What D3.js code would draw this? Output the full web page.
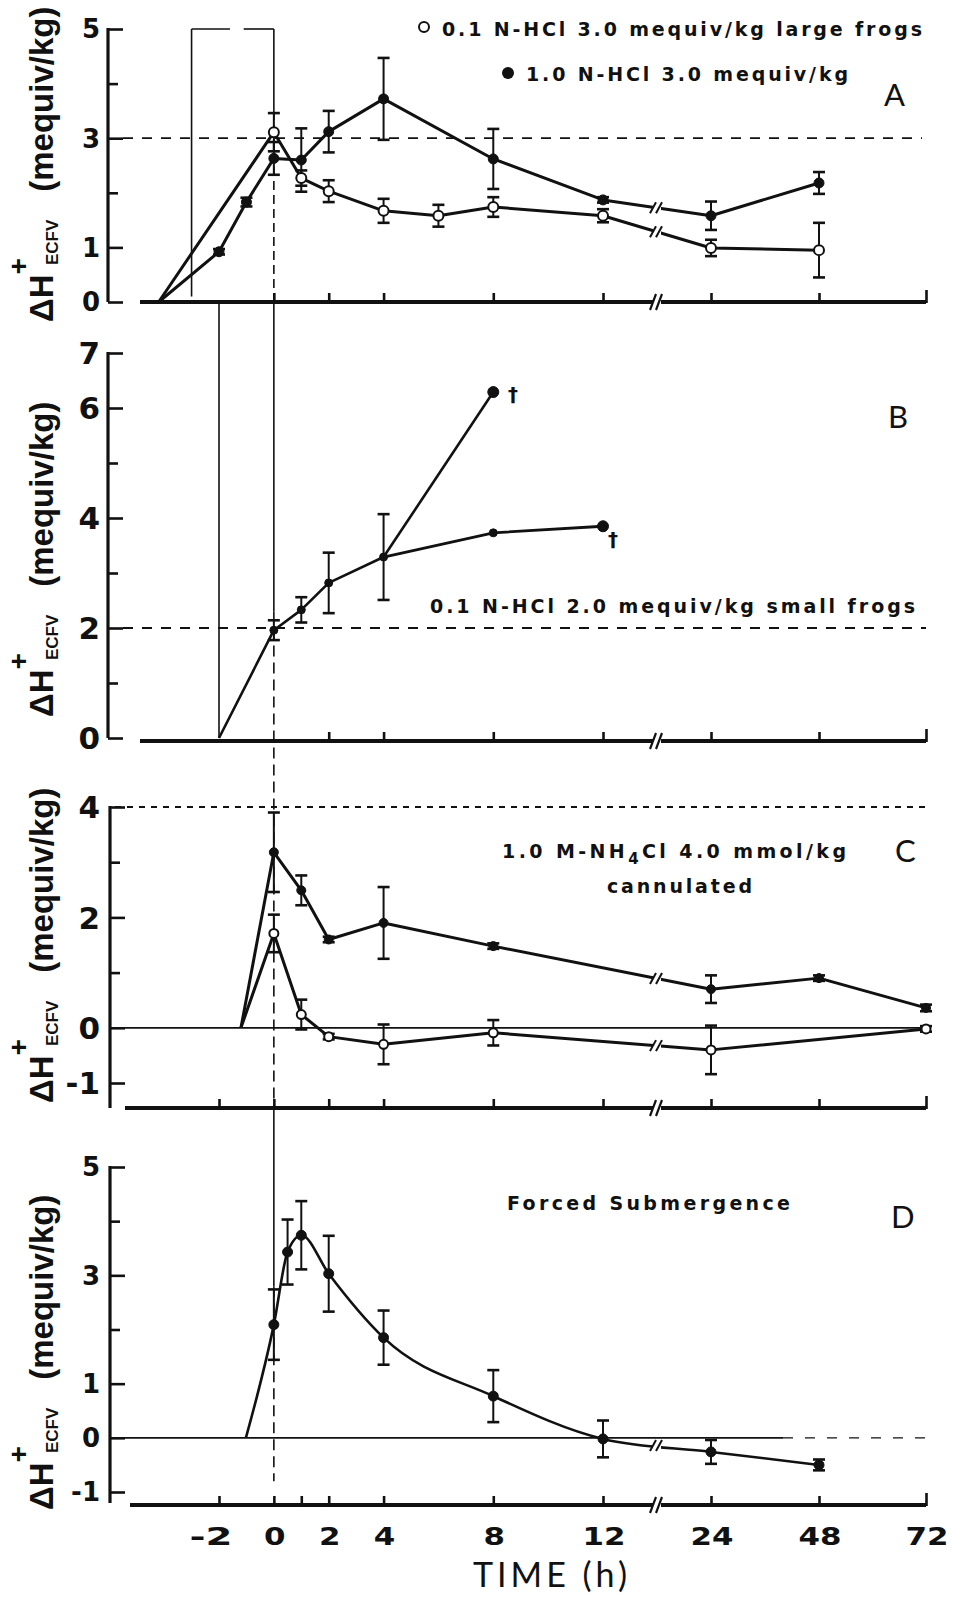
<!DOCTYPE html>
<html><head><meta charset="utf-8">
<script src="https://cdn.jsdelivr.net/npm/d3@7"></script>
<style>body{margin:0;background:#fff}svg{display:block}</style>
</head><body>
<svg id="chart" width="953" height="1597"></svg>
<script>
// ---------------- DATA ----------------
const timeTickValues = [-2, 0, 2, 4, 8, 12, 24, 48, 72];
const timeTickLabels = ["-2", "0", "2", "4", "8", "12", "24", "48", "72"];

// Panel A : 0.1 N-HCl (open) and 1.0 N-HCl (filled), 3.0 mequiv/kg
const aOnset = -4.2;
const aOpenTime = [0, 1, 2, 4, 6, 8, 12, 24, 48];
const aOpenVal  = [3.11, 2.27, 2.03, 1.67, 1.58, 1.74, 1.58, 0.99, 0.95];
const aOpenErr  = [0.35, 0.14, 0.2, 0.22, 0.2, 0.18, 0.12, 0.15, 0.5];
const aFillTime = [-2, -1, 0, 1, 2, 4, 8, 12, 24, 48];
const aFillVal  = [0.92, 1.83, 2.63, 2.6, 3.12, 3.72, 2.62, 1.87, 1.58, 2.18];
const aFillErr  = [0.05, 0.08, 0.3, 0.58, 0.38, 0.75, 0.55, 0.05, 0.26, 0.2];
const aReference = 3;

// Panel B : 0.1 N-HCl 2.0 mequiv/kg small frogs
const bOnset = -2;
const bTime = [0, 1, 2, 4];
const bVal  = [1.96, 2.33, 2.82, 3.29];
const bErr  = [0.18, 0.23, 0.55, 0.78];
const bHighTime = [8];
const bHighVal  = [6.29];
const bLowTime  = [8, 12];
const bLowVal   = [3.73, 3.85];
const bReference = 2;

// Panel C : 1.0 M-NH4Cl 4.0 mmol/kg cannulated
const cOnset = -1.2;
const cFillTime = [0, 1, 2, 4, 8, 24, 48, 72];
const cFillVal  = [3.18, 2.49, 1.6, 1.9, 1.48, 0.7, 0.9, 0.36];
const cFillErr  = [0.72, 0.27, 0.05, 0.65, 0.05, 0.25, 0.05, 0.06];
const cOpenTime = [0, 1, 2, 4, 8, 24, 72];
const cOpenVal  = [1.71, 0.24, -0.16, -0.3, -0.09, -0.4, -0.02];
const cOpenErr  = [0.34, 0.27, 0.05, 0.36, 0.23, 0.44, 0.05];
const cReference = 4;

// Panel D : Forced submergence
const dOnset = -1.02;
const dTime = [0, 0.5, 1, 2, 4, 8, 12, 24, 48];
const dVal  = [2.09, 3.43, 3.74, 3.03, 1.85, 0.77, -0.02, -0.26, -0.5];
const dErr  = [0.65, 0.6, 0.63, 0.7, 0.5, 0.48, 0.34, 0.22, 0.1];

// ---------------- LAYOUT ----------------
const svg = d3.select("#chart");
const INK = "#111";
const BOLD = "'Liberation Sans', Arial, Helvetica, sans-serif";
const ANNOT = "'DejaVu Sans', sans-serif";
const DIGIT = "'DejaVu Sans', sans-serif";
const LIGHT = "Lato, 'Open Sans', sans-serif";

// broken time axis: linear -2..12 then 24, 48, 72 equally spaced
const x = d3.scaleLinear().domain([-2, 12, 24, 48, 72]).range([219, 603, 711, 819, 926]);
const breakT = 18;

const panels = {
  A: { y: d3.scaleLinear().domain([0, 5]).range([302, 29]), axisY: 302, axisStart: 140, spineX: 108, spineBottom: 302,
       yTicks: [0, 1, 2, 3, 4, 5], yLabeled: [0, 1, 3, 5], tickFont: 26, xTicks: [0, 2, 4, 8, 12, 24, 48, 72], labelBottom: 322 },
  B: { y: d3.scaleLinear().domain([0, 7]).range([738, 353]), axisY: 741, axisStart: 140, spineX: 108, spineBottom: 738,
       yTicks: [0, 1, 2, 3, 4, 5, 6, 7], yLabeled: [0, 2, 4, 6, 7], tickFont: 31, xTicks: [2, 4, 8, 12, 24, 48, 72], labelBottom: 717 },
  C: { y: d3.scaleLinear().domain([-1, 4]).range([1083, 807]), axisY: 1108, axisStart: 125, spineX: 110, spineBottom: 1108,
       yTicks: [-1, 0, 1, 2, 3, 4], yLabeled: [-1, 0, 2, 4], tickFont: 31, xTicks: [-2, 0, 2, 4, 8, 12, 24, 48, 72], labelBottom: 1103 },
  D: { y: d3.scaleLinear().domain([-1, 5]).range([1492, 1167]), axisY: 1505, axisStart: 130, spineX: 110, spineBottom: 1503,
       yTicks: [-1, 0, 1, 2, 3, 4, 5], yLabeled: [-1, 0, 1, 3, 5], tickFont: 26, xTicks: [-2, 0, 1, 2, 4, 8, 12, 24, 48, 72], labelBottom: 1510 }
};

function seg(g, x1, y1, x2, y2, sw, dash) {
  const l = g.append("line").attr("x1", x1).attr("y1", y1).attr("x2", x2).attr("y2", y2)
    .attr("stroke", INK).attr("stroke-width", sw).attr("stroke-linecap", "butt");
  if (dash) l.attr("stroke-dasharray", dash);
  return l;
}

function breakMark(g, bx, by, h, sw) {
  g.append("rect").attr("x", bx - 4).attr("y", by - h / 2).attr("width", 8).attr("height", h).attr("fill", "#fff");
  seg(g, bx - 7, by + h / 2, bx - 1, by - h / 2, sw);
  seg(g, bx - 1, by + h / 2, bx + 5, by - h / 2, sw);
}

function drawAxes(p) {
  const g = svg.append("g");
  const y = p.y;
  // y spine
  seg(g, p.spineX, y(y.domain()[1]) - 1, p.spineX, p.spineBottom, 3.2);
  const ay = d3.axisRight(y).tickValues(p.yTicks).tickFormat("").tickSize(10);
  const ag = g.append("g").attr("transform", `translate(${p.spineX},0)`).call(ay);
  ag.select(".domain").remove();
  ag.selectAll(".tick line").attr("stroke", INK).attr("stroke-width", 2.6)
    .attr("x2", d => p.yLabeled.includes(d) ? 15 : 10);
  g.selectAll("text.ylab").data(p.yLabeled).join("text")
    .attr("x", 100).attr("y", d => y(d)).attr("dy", "0.36em")
    .attr("text-anchor", "end").attr("font-family", DIGIT).attr("font-weight", "bold")
    .attr("font-size", p.tickFont).attr("fill", INK).text(d => d < 0 ? "-" + Math.abs(d) : d);
  // x axis
  seg(g, p.axisStart, p.axisY, x(72), p.axisY, 4);
  const ax = d3.axisBottom(x).tickValues(p.xTicks).tickFormat("").tickSizeInner(-9).tickSizeOuter(0);
  const xg = g.append("g").attr("transform", `translate(0,${p.axisY})`).call(ax);
  xg.select(".domain").remove();
  xg.selectAll(".tick line").attr("stroke", INK).attr("stroke-width", 2.6).attr("y1", 1)
    .attr("y2", d => d === 72 ? -12 : -9);
  breakMark(g, x(breakT), p.axisY, 16, 2.2);
  // y axis title
  const t = g.append("text").attr("transform", `translate(53,${p.labelBottom}) rotate(-90)`)
    .attr("font-family", BOLD).attr("font-weight", "bold").attr("font-size", 33).attr("fill", INK);
  t.append("tspan").text("ΔH");
  t.append("tspan").attr("font-size", 28).attr("dy", -25).text("+");
  t.append("tspan").attr("font-size", 17).attr("dx", -7).attr("dy", 30).text("ECFV");
  t.append("tspan").attr("dx", 28).attr("dy", -5).text("(mequiv/kg)");
  return g;
}

function drawSeries(p, onset, times, vals, errs, opt) {
  const g = svg.append("g");
  const y = p.y;
  const pts = times.map((t, i) => ({ t, v: vals[i], e: errs ? errs[i] : 0 }));
  const path = (onset !== null ? [{ t: onset, v: 0, e: 0 }] : []).concat(opt.prefix || [], pts);
  const gen = d3.line().x(d => x(d.t)).y(d => y(d.v)).curve(opt.curve || d3.curveLinear);
  g.append("path").attr("d", gen(path)).attr("fill", "none").attr("stroke", INK)
    .attr("stroke-width", opt.lw || 3).attr("stroke-linejoin", "round");
  // break marks where the line crosses the axis break
  for (let i = 1; i < path.length; i++) {
    const a = path[i - 1], b = path[i];
    if (a.t < breakT && b.t > breakT) {
      const bx = x(breakT), f = (bx - x(a.t)) / (x(b.t) - x(a.t));
      const by = y(a.v) + f * (y(b.v) - y(a.v));
      breakMark(g, bx, by, 11, 2);
    }
  }
  // error bars
  pts.filter(d => d.e > 0).forEach(d => {
    const cx = x(d.t), y1 = y(d.v + d.e), y2 = y(d.v - d.e);
    seg(g, cx, y1, cx, y2, 2);
    seg(g, cx - 6, y1, cx + 6, y1, 2.6);
    seg(g, cx - 6, y2, cx + 6, y2, 2.6);
  });
  // markers
  g.selectAll("circle").data(pts).join("circle")
    .attr("cx", d => x(d.t)).attr("cy", d => y(d.v))
    .attr("r", (d, i) => opt.radius ? opt.radius(d, i) : 5)
    .attr("fill", opt.open ? "#fff" : INK).attr("stroke", INK).attr("stroke-width", opt.open ? 2 : 1);
  return g;
}

function label(txt, xs, ys, size, len, family, weight) {
  const t = svg.append("text").attr("x", xs).attr("y", ys).attr("font-family", family || ANNOT)
    .attr("font-weight", weight || "bold").attr("font-size", size).attr("fill", INK).text(txt);
  if (len) t.attr("textLength", len).attr("lengthAdjust", "spacing");
  return t;
}

// ---------------- GUIDE LINES ----------------
const gl = svg.append("g");
const A = panels.A, B = panels.B, C = panels.C, D = panels.D;
// injection box in panel A
seg(gl, x(-3), A.y(5), x(-3), A.y(0.1), 1.6);
seg(gl, x(-3), A.y(5), x(-1.6), A.y(5), 1.6);
seg(gl, x(-1.1), A.y(5), x(0), A.y(5), 1.6);
// t = -2 line from A axis down to B
seg(gl, x(-2), A.axisY, x(-2), B.y(0), 1.6);
// t = 0 line through all panels
seg(gl, x(0), A.y(5), x(0), A.y(3.5), 1.6);
seg(gl, x(0), A.y(3.5), x(0), A.axisY, 1.6, "9,5");
seg(gl, x(0), A.axisY, x(0), B.y(2.3), 1.6);
seg(gl, x(0), B.y(2.3), x(0), C.axisY, 1.6, "11,6");
seg(gl, x(0), C.axisY, x(0), D.y(2.8), 1.6);
seg(gl, x(0), D.y(2.8), x(0), D.y(-0.8), 1.6, "11,6");
// reference levels
seg(gl, 123, A.y(aReference), x(72) - 4, A.y(aReference), 1.8, "10,9");
seg(gl, 123, B.y(bReference), x(72), B.y(bReference), 1.8, "10,9");
seg(gl, 115, C.y(cReference), x(72), C.y(cReference), 1.8, "6,6");
// zero lines in C and D
seg(gl, C.spineX, C.y(0), x(72), C.y(0), 1.8);
seg(gl, D.spineX, D.y(0), x(40), D.y(0), 1.8);
seg(gl, x(40), D.y(0), x(72), D.y(0), 1.4, "10,12");

// ---------------- AXES ----------------
Object.values(panels).forEach(drawAxes);

// ---------------- SERIES ----------------
drawSeries(A, aOnset, aFillTime, aFillVal, aFillErr, { open: false, radius: () => 5 });
drawSeries(A, aOnset, aOpenTime, aOpenVal, aOpenErr, { open: true, radius: () => 5 });

drawSeries(B, bOnset, bTime, bVal, bErr, { open: false, radius: () => 4, lw: 2.6 });
drawSeries(B, null, bHighTime, bHighVal, null, { open: false, radius: () => 5.5, lw: 2.6,
  prefix: [{ t: bTime[3], v: bVal[3], e: 0 }] });
drawSeries(B, null, bLowTime, bLowVal, null, { open: false, radius: (d, i) => i === 0 ? 4 : 5.5, lw: 2.8,
  prefix: [{ t: bTime[3], v: bVal[3], e: 0 }] });

drawSeries(C, cOnset, cFillTime, cFillVal, cFillErr, { open: false, radius: () => 4.5 });
drawSeries(C, cOnset, cOpenTime, cOpenVal, cOpenErr, { open: true, radius: () => 4.5 });

drawSeries(D, dOnset, dTime, dVal, dErr, { open: false, radius: () => 5, curve: d3.curveMonotoneX, lw: 2.6 });

// ---------------- TEXT ----------------
// legend panel A
svg.append("circle").attr("cx", 424).attr("cy", 27).attr("r", 5).attr("fill", "#fff").attr("stroke", INK).attr("stroke-width", 2);
label("0.1 N-HCl 3.0 mequiv/kg large frogs", 442, 36, 19, 480);
svg.append("circle").attr("cx", 508).attr("cy", 73).attr("r", 6).attr("fill", INK);
label("1.0 N-HCl 3.0 mequiv/kg", 526, 81, 19, 322);
label("0.1 N-HCl 2.0 mequiv/kg small frogs", 430, 613, 19, 485);
const cl = svg.append("text").attr("x", 502).attr("y", 858).attr("font-family", ANNOT).attr("font-weight", "bold")
  .attr("font-size", 19).attr("fill", INK).attr("textLength", 344).attr("lengthAdjust", "spacing");
cl.append("tspan").text("1.0 M-NH");
cl.append("tspan").attr("font-size", 15).attr("dy", 6).text("4");
cl.append("tspan").attr("dy", -6).text("Cl 4.0 mmol/kg");
label("cannulated", 607, 893, 19, 145);
label("Forced Submergence", 507, 1210, 19, 283);
// daggers
label("†", 508, 401, 20, null);
label("†", 608, 546, 20, null);
// panel letters
label("A", 884, 106, 31, null, LIGHT, 400);
label("B", 888, 428, 31, null, LIGHT, 400);
label("C", 895, 862, 31, null, LIGHT, 400);
label("D", 891, 1228, 31, null, LIGHT, 400);

// time tick labels (bottom)
svg.append("g").selectAll("text").data(timeTickValues).join("text")
  .attr("x", (d, i) => x(d) + (timeTickLabels[i] === "-2" ? -8 : 1))
  .attr("y", 1545).attr("text-anchor", "middle")
  .attr("font-family", DIGIT).attr("font-weight", "bold").attr("font-size", 25).attr("fill", INK)
  .attr("textLength", (d, i) => timeTickLabels[i].length * 21.5).attr("lengthAdjust", "spacingAndGlyphs")
  .text((d, i) => timeTickLabels[i]);
label("TIME (h)", 473, 1587, 34, 154, LIGHT, 400);
</script>
</body></html>
